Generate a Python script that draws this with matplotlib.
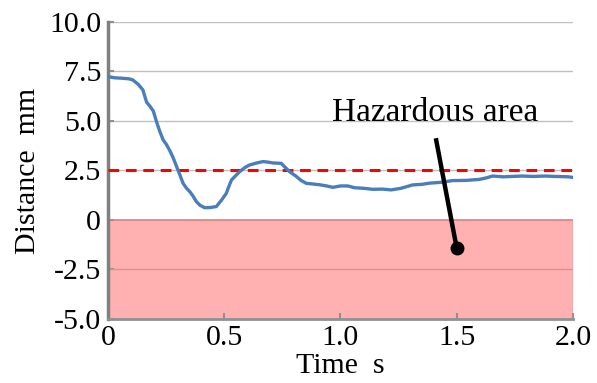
import matplotlib
matplotlib.use("Agg")
import matplotlib.pyplot as plt

# Data
time_s = [0.0, 0.03, 0.06, 0.09, 0.107, 0.13, 0.15, 0.166, 0.18, 0.195, 0.209, 0.222, 0.237,
          0.252, 0.266, 0.28, 0.295, 0.31, 0.323, 0.338, 0.352, 0.366, 0.38, 0.395, 0.416,
          0.44, 0.466, 0.488, 0.509, 0.52, 0.531, 0.55, 0.567, 0.589, 0.609, 0.64, 0.667,
          0.69, 0.71, 0.745, 0.763, 0.781, 0.81, 0.83, 0.853, 0.88, 0.91, 0.94, 0.967,
          1.0, 1.031, 1.06, 1.1, 1.139, 1.18, 1.218, 1.26, 1.31, 1.35, 1.382, 1.43, 1.482,
          1.54, 1.597, 1.625, 1.654, 1.7, 1.74, 1.78, 1.83, 1.883, 1.92, 1.954, 1.98, 2.0]
distance_mm = [7.24, 7.18, 7.16, 7.13, 7.07, 6.85, 6.57, 5.95, 5.75, 5.5, 4.95, 4.5, 4.05,
               3.8, 3.5, 3.15, 2.7, 2.25, 1.85, 1.6, 1.43, 1.2, 0.93, 0.75, 0.62,
               0.63, 0.68, 1.0, 1.35, 1.7, 2.02, 2.25, 2.45, 2.65, 2.78, 2.88, 2.95,
               2.92, 2.88, 2.86, 2.65, 2.44, 2.2, 2.0, 1.85, 1.82, 1.78, 1.72, 1.65,
               1.72, 1.72, 1.63, 1.6, 1.55, 1.56, 1.52, 1.6, 1.77, 1.8, 1.86, 1.9, 1.99,
               2.0, 2.05, 2.12, 2.22, 2.18, 2.2, 2.22, 2.2, 2.22, 2.2, 2.19, 2.18, 2.15]

threshold_mm = 2.5
hazard_low, hazard_high = -5.0, 0.0
x_ticks = [0, 0.5, 1.0, 1.5, 2.0]
x_ticklabels = ["0", "0.5", "1.0", "1.5", "2.0"]
y_ticks = [-5.0, -2.5, 0, 2.5, 5.0, 7.5, 10.0]
y_ticklabels = ["-5.0", "-2.5", "0", "2.5", "5.0", "7.5", "10.0"]
annotation_text = "Hazardous area"
arrow_start = (1.41, 4.13)
arrow_end = (1.5, -1.43)

plt.rcParams['font.family'] = ['Liberation Serif', 'DejaVu Serif']

fig = plt.figure(figsize=(5.97, 3.83), dpi=100)
ax = fig.add_axes([0.1809, 0.1671, 0.9598 - 0.1809, 0.9426 - 0.1671])

ax.set_xlim(0, 2.0)
ax.set_ylim(-5.0, 10.0)

# gridlines
for yv in y_ticks:
    if yv > 0:
        ax.axhline(yv, color='#c0c0c0', lw=1.0, zorder=0)

# hazardous area
ax.axhspan(hazard_low, hazard_high, facecolor='#ffb0b0', edgecolor='none', zorder=1)
ax.axhline(0, color='#d88080', lw=1.2, zorder=2)
ax.axhline(-2.5, color='#e09090', lw=1.0, zorder=2)
ax.axvline(2.0, ymin=0, ymax=1/3, color='#e09090', lw=1.0, zorder=2)

# threshold
ax.axhline(threshold_mm, color='#ff0000', lw=2.2, ls=(0, (3.5, 2.2)), zorder=3)

# data
ax.plot(time_s, distance_mm, color='#4a7ebb', lw=2.4, zorder=4)

# annotation
ax.plot([arrow_start[0], arrow_end[0]], [arrow_start[1], arrow_end[1]],
        color='black', lw=3.2, zorder=5, solid_capstyle='butt')
ax.plot([arrow_end[0]], [arrow_end[1]], 'o', color='black', ms=9, zorder=6)
ax.text(1.408, 5.4, annotation_text, fontsize=24, ha='center', va='center', zorder=6)

# spines
for s in ['top', 'right']:
    ax.spines[s].set_visible(False)
ax.spines['left'].set_color('#808080')
ax.spines['left'].set_linewidth(2.5)
ax.spines['bottom'].set_color('#909090')
ax.spines['bottom'].set_linewidth(2.0)

ax.set_xticks(x_ticks)
ax.set_xticklabels(x_ticklabels)
ax.set_yticks(y_ticks)
ax.set_yticklabels(y_ticklabels)
ax.tick_params(axis='both', direction='in', length=4, width=1.5, color='#909090',
               labelsize=21.5, pad=5)
ax.tick_params(axis='x', pad=4)

ax.set_xlabel("Time  s", fontsize=21.5, labelpad=2)
ax.set_ylabel("Distance  mm", fontsize=21.5, labelpad=6)

fig.savefig("out.png", dpi=100)
